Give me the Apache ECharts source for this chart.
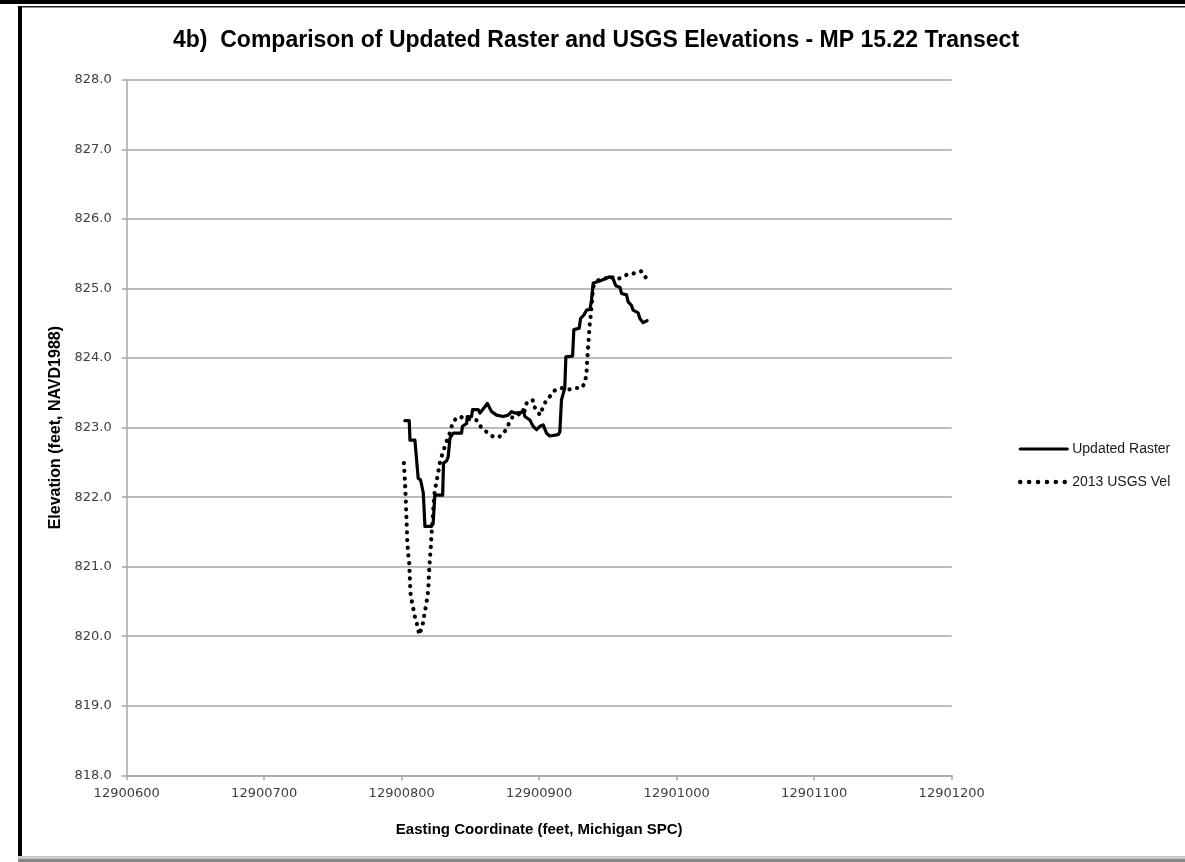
<!DOCTYPE html>
<html>
<head>
<meta charset="utf-8">
<title>MP 15.22 Transect</title>
<script src="https://cdn.jsdelivr.net/npm/echarts@6/dist/echarts.min.js"></script>
<style>
  html, body { margin: 0; padding: 0; background: #fff; }
  #chart { width: 1185px; height: 862px; }
</style>
</head>
<body>
<div id="chart"></div>
<script>
// Transect profile: easting (feet, Michigan SPC) vs elevation (feet, NAVD1988)
const xTicks = [12900600, 12900700, 12900800, 12900900, 12901000, 12901100, 12901200];
const yTicks = [818, 819, 820, 821, 822, 823, 824, 825, 826, 827, 828];

const rasterEasting = [
  12900802.3, 12900805.5, 12900806.0, 12900809.6, 12900812.0, 12900813.7, 12900815.7, 12900816.9,
  12900821.7, 12900822.9, 12900824.1, 12900829.8, 12900830.4, 12900832.6, 12900833.8, 12900835.1,
  12900837.5, 12900843.5, 12900844.2, 12900847.2, 12900847.7, 12900850.8, 12900851.6, 12900855.6,
  12900856.9, 12900860.5, 12900862.2, 12900865.4, 12900869.0, 12900873.8, 12900877.4, 12900879.9,
  12900882.3, 12900887.2, 12900888.3, 12900889.6, 12900893.2, 12900895.6, 12900898.1, 12900900.5,
  12900902.9, 12900905.3, 12900907.7, 12900913.8, 12900915.0, 12900916.2, 12900917.4, 12900918.6,
  12900919.4, 12900924.3, 12900925.2, 12900929.1, 12900930.1, 12900932.5, 12900934.4, 12900936.9,
  12900938.1, 12900939.3, 12900944.1, 12900947.7, 12900951.4, 12900953.8, 12900955.7, 12900958.7,
  12900959.9, 12900963.5, 12900964.7, 12900967.1, 12900968.3, 12900972.0, 12900973.2, 12900975.6,
  12900978.5
];
const rasterElev = [
  823.10, 823.10, 822.82, 822.82, 822.27, 822.25, 822.06, 821.58,
  821.58, 821.63, 822.03, 822.03, 822.49, 822.52, 822.58, 822.85,
  822.92, 822.92, 823.02, 823.06, 823.16, 823.16, 823.26, 823.26,
  823.21, 823.30, 823.35, 823.23, 823.18, 823.16, 823.18, 823.23,
  823.21, 823.22, 823.26, 823.16, 823.11, 823.02, 822.97, 823.02,
  823.04, 822.92, 822.88, 822.90, 822.94, 823.40, 823.42, 823.57,
  824.02, 824.03, 824.41, 824.43, 824.57, 824.62, 824.69, 824.70,
  824.84, 825.08, 825.11, 825.14, 825.17, 825.14, 825.04, 825.02,
  824.93, 824.91, 824.81, 824.76, 824.69, 824.65, 824.57, 824.51,
  824.54
];

const usgsEasting = [
  12900801.6, 12900802.3, 12900803.0, 12900803.5, 12900804.0, 12900804.7, 12900805.5, 12900806.0,
  12900806.4, 12900807.2, 12900808.4, 12900809.6, 12900811.3, 12900812.8, 12900813.7, 12900815.2,
  12900816.2, 12900817.6, 12900818.6, 12900819.3, 12900820.0, 12900820.5, 12900821.0, 12900821.7,
  12900822.4, 12900823.4, 12900824.1, 12900825.3, 12900826.5, 12900827.7, 12900828.9, 12900832.6,
  12900835.0, 12900836.9, 12900838.6, 12900840.3, 12900842.3, 12900844.7, 12900850.0, 12900853.2,
  12900855.6, 12900857.6, 12900859.7, 12900862.9, 12900866.5, 12900870.2, 12900873.3, 12900875.8,
  12900877.5, 12900879.2, 12900881.1, 12900883.5, 12900886.0, 12900888.9, 12900890.8, 12900893.2,
  12900895.2, 12900896.1, 12900898.1, 12900900.5, 12900902.9, 12900905.3, 12900907.8, 12900910.2,
  12900912.6, 12900916.2, 12900922.3, 12900926.6, 12900930.8, 12900933.2, 12900934.4, 12900934.9,
  12900935.6, 12900936.3, 12900936.8, 12900937.3, 12900938.3, 12900939.3, 12900942.9, 12900946.5,
  12900951.4, 12900956.2, 12900959.9, 12900964.7, 12900969.6, 12900974.4, 12900978.5
];
const usgsElev = [
  822.49, 822.25, 821.96, 821.67, 821.39, 821.19, 821.05, 820.79,
  820.62, 820.52, 820.40, 820.28, 820.16, 820.02, 820.04, 820.16,
  820.28, 820.43, 820.55, 820.67, 820.95, 821.10, 821.24, 821.46,
  821.63, 821.96, 822.10, 822.22, 822.35, 822.49, 822.58, 822.80,
  822.92, 823.06, 823.11, 823.15, 823.16, 823.14, 823.12, 823.12,
  823.09, 823.01, 822.97, 822.92, 822.87, 822.86, 822.90, 822.97,
  823.04, 823.11, 823.17, 823.18, 823.20, 823.21, 823.35, 823.37,
  823.40, 823.30, 823.27, 823.18, 823.30, 823.40, 823.45, 823.52,
  823.55, 823.57, 823.55, 823.57, 823.57, 823.64, 823.78, 823.97,
  824.17, 824.36, 824.50, 824.58, 824.80, 825.03, 825.12, 825.13,
  825.18, 825.13, 825.16, 825.21, 825.22, 825.25, 825.13
];

const zip = (xs, ys) => xs.map((x, i) => [x, ys[i]]);

const tickFont = 'DejaVu Sans, Verdana, sans-serif';
const titleFont = '"Liberation Sans", Arial, sans-serif';
const gridGray = '#a6a6a6';

const chart = echarts.init(document.getElementById('chart'), null, { renderer: 'canvas' });

chart.setOption({
  backgroundColor: '#ffffff',
  animation: false,
  title: {
    text: '4b)  Comparison of Updated Raster and USGS Elevations - MP 15.22 Transect',
    left: 591,
    top: 24,
    textAlign: 'center',
    textStyle: { fontFamily: titleFont, fontWeight: 'bold', fontSize: 23, color: '#000' }
  },
  grid: { left: 126.7, right: 233.3, top: 80, bottom: 86.7, containLabel: false },
  legend: {
    orient: 'vertical',
    left: 1013,
    top: 437,
    itemWidth: 47,
    itemHeight: 14,
    itemGap: 19,
    itemStyle: { opacity: 0 },
    textStyle: { fontFamily: '"Liberation Sans", Arial, sans-serif', fontSize: 14, color: '#1a1a1a' },
    data: [
      { name: 'Updated Raster', lineStyle: { width: 3.2, color: '#000' } },
      { name: '2013 USGS Vel', lineStyle: { width: 4.4, color: '#000', type: [0.1, 8.8], cap: 'round' } }
    ]
  },
  xAxis: {
    type: 'value',
    min: xTicks[0],
    max: xTicks[xTicks.length - 1],
    interval: 100,
    name: 'Easting Coordinate (feet, Michigan SPC)',
    nameLocation: 'middle',
    nameGap: 47,
    nameTextStyle: { fontFamily: titleFont, fontWeight: 'bold', fontSize: 15, color: '#000' },
    axisLine: { show: true, onZero: false, lineStyle: { color: gridGray, width: 1.5 } },
    axisTick: { show: true, inside: false, length: 5, lineStyle: { color: gridGray, width: 1.5 } },
    axisLabel: {
      margin: 12,
      fontFamily: tickFont, fontSize: 13, color: '#404040',
      formatter: v => String(v)
    },
    splitLine: { show: false }
  },
  yAxis: {
    type: 'value',
    min: yTicks[0],
    max: yTicks[yTicks.length - 1],
    interval: 1,
    name: 'Elevation (feet, NAVD1988)',
    nameLocation: 'middle',
    nameGap: 60,
    nameTextStyle: { fontFamily: titleFont, fontWeight: 'bold', fontSize: 16, color: '#000' },
    axisLine: { show: true, onZero: false, lineStyle: { color: gridGray, width: 1.5 } },
    axisTick: { show: true, inside: false, length: 5, lineStyle: { color: gridGray, width: 1.5 } },
    axisLabel: {
      margin: 15,
      fontFamily: tickFont, fontSize: 13, color: '#404040',
      formatter: v => v.toFixed(1)
    },
    splitLine: { show: true, lineStyle: { color: gridGray, width: 1.5 } }
  },
  series: [
    {
      name: 'Updated Raster',
      type: 'line',
      data: zip(rasterEasting, rasterElev),
      symbol: 'none',
      color: '#000',
      lineStyle: { color: '#000', width: 3.2, join: 'round', cap: 'round' },
      z: 3
    },
    {
      name: '2013 USGS Vel',
      type: 'line',
      data: zip(usgsEasting, usgsElev),
      symbol: 'none',
      color: '#000',
      lineStyle: { color: '#000', width: 4.2, type: [0.1, 7.6], cap: 'round' },
      z: 2
    }
  ],
  graphic: [
    // page frame around the figure
    { type: 'rect', shape: { x: 0, y: 0, width: 1185, height: 4 }, style: { fill: '#000' }, silent: true },
    { type: 'rect', shape: { x: 18, y: 6, width: 1167, height: 1.5 }, style: { fill: '#222' }, silent: true },
    { type: 'rect', shape: { x: 18, y: 6, width: 4, height: 851 }, style: { fill: '#000' }, silent: true },
    { type: 'rect', shape: { x: 18, y: 856, width: 1167, height: 3 }, style: { fill: '#c8c8c8' }, silent: true },
    { type: 'rect', shape: { x: 18, y: 859, width: 1167, height: 3 }, style: { fill: '#8a8a8a' }, silent: true }
  ]
});
</script>
</body>
</html>
